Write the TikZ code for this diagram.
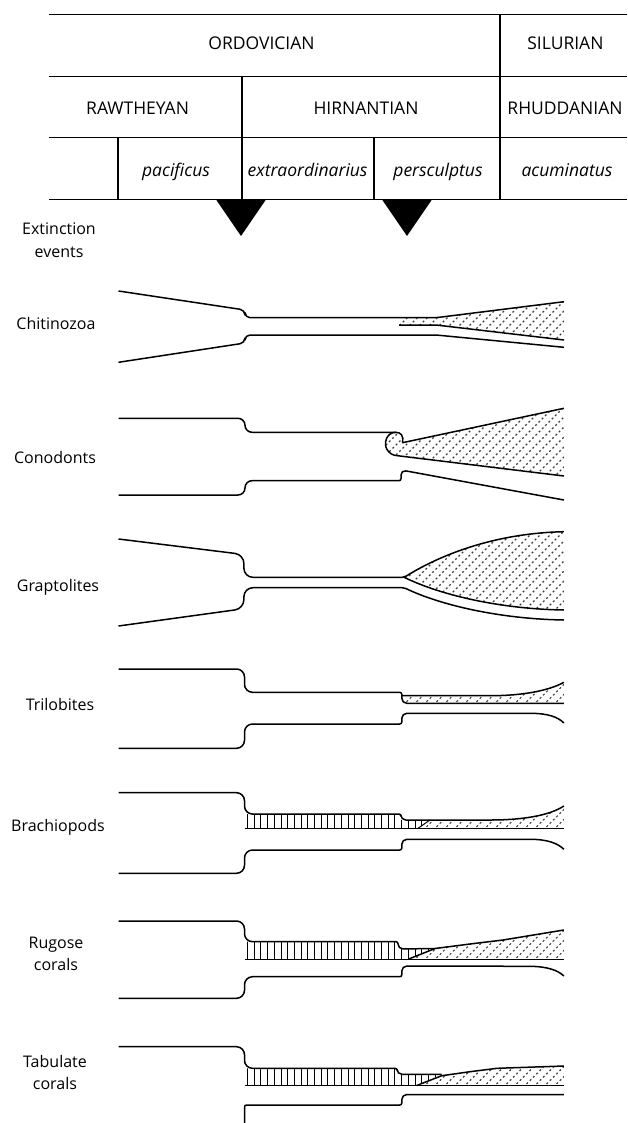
\documentclass[tikz,border=0pt]{standalone}
\usepackage{fontspec}
\setmainfont{Open Sans}
\newcommand\stipfill[2]{\begin{scope}\clip #1;\foreach \k in {180,190,...,580}{\draw[stip] (\k,#2+5) -- ++(200,-200);}\end{scope}}
\newcommand\vhatchfill[3]{\begin{scope}\clip #1;\foreach \x in {247.5,254.2,...,445}{\draw[vh] (\x,#2) -- (\x,#3);}\end{scope}}
\begin{document}
\begin{tikzpicture}[x=1pt,y=-1pt,line join=round,
  outl/.style={line width=1.5pt},
  tbl/.style={line width=1.5pt},
  lab/.style={font=\fontsize{16}{22}\selectfont, inner sep=0pt, anchor=base},
  hd/.style={font=\fontsize{17.5}{22}\selectfont, inner sep=0pt, anchor=base},
  hdi/.style={font=\fontsize{17.5}{22}\selectfont\itshape, inner sep=0pt, anchor=base},
  side/.style={font=\fontsize{16}{22}\selectfont, inner sep=0pt, align=center},
  stip/.style={line width=1.1pt, dash pattern=on 2pt off 2.6pt, black!75},
  vh/.style={line width=1pt},
  thinl/.style={line width=1pt},
]
\useasboundingbox (0,0) rectangle (627,1123);
% ---------- table ----------
\draw[tbl] (49,14.7) -- (627,14.7);
\draw[tbl] (49,76.5) -- (627,76.5);
\draw[tbl] (49,137.7) -- (627,137.7);
\draw[tbl] (49,199.5) -- (627,199.5);
\draw[tbl] (500,14.7) -- (500,199.5);
\draw[tbl] (242,76.5) -- (242,199.5);
\draw[tbl] (118,137.7) -- (118,199.5);
\draw[tbl] (374,137.7) -- (374,199.5);
\node[hd] (ordo) at (261.5,49.3) {ORDOVICIAN};
\node[hd] (silu) at (565.4,49.3) {SILURIAN};
\node[hd] (rawt) at (137.6,115) {RAWTHEYAN};
\node[hd] (hirn) at (366,115) {HIRNANTIAN};
\node[hd] (rhud) at (565,115) {RHUDDANIAN};
\node[hdi] (paci) at (176,176.7) {pacificus};
\node[hdi] (extr) at (307.6,176.7) {extraordinarius};
\node[hdi] (pers) at (438,176.7) {persculptus};
\node[hdi] (acum) at (567,176.7) {acuminatus};
% extinction triangles
\fill (216,199.5) -- (266,199.5) -- (241,236) -- cycle;
\fill (382,199.5) -- (432,199.5) -- (407,236) -- cycle;
\node[side,font=\fontsize{16}{23}\selectfont] (ext) at (59,240.5) {Extinction\\events};
% ---------- labels ----------
\node[lab] (chit) at (56,329) {Chitinozoa};
\node[lab] (cono) at (55,463) {Conodonts};
\node[lab] (grap) at (58,591) {Graptolites};
\node[lab] (tril) at (60,710) {Trilobites};
\node[lab] (brac) at (58,831) {Brachiopods};
\node[side] (rugo) at (56,954) {Rugose\\corals};
\node[side] (tabu) at (55,1072) {Tabulate\\corals};
% ---------- Chitinozoa ----------
\stipfill{(399,317.7) -- (436,317.7) -- (564,301.7) -- (564,340) -- (436,325) -- (399,325) -- cycle}{340}
\draw[outl] (118.5,291) [rounded corners=5pt] -- (245,310) -- (245,317.7) [rounded corners=2pt] -- (436,317.7) -- (564,301.7);
\draw[outl] (399,325) -- (436,325) -- (564,340);
\draw[outl] (118.5,362.3) [rounded corners=5pt] -- (245,343) -- (245,335) [rounded corners=2pt] -- (436,335) -- (564,347.3);
% ---------- Conodonts ----------
\stipfill{(563.9,408.3) -- (402.5,442.7) .. controls (404,436) and (401,432.3) .. (395.8,432.3) .. controls (386,432.3) and (383.5,444) .. (387,449.5) .. controls (389.5,453.5) and (393,455.5) .. (397.5,455.7) -- (563.9,476) -- cycle}{476}
\draw[outl] (118.5,418.3) [rounded corners=7pt] -- (245,418.3) -- (245,432.3) [rounded corners=2pt] -- (395.8,432.3);
\draw[outl] (563.9,408.3) -- (402.5,442.7) .. controls (404,436) and (401,432.3) .. (395.8,432.3) .. controls (386,432.3) and (383.5,444) .. (387,449.5) .. controls (389.5,453.5) and (393,455.5) .. (397.5,455.7) -- (563.9,476);
\draw[outl] (118.5,495) [rounded corners=7pt] -- (245,495) -- (245,480.7) [rounded corners=2pt] -- (401,480.7) [rounded corners=5pt] -- (401,470) [sharp corners] -- (563.9,500);
% ---------- Graptolites ----------
\stipfill{(404.2,577.3) .. controls (445,552) and (500,533) .. (563.9,531.7) -- (563.9,610) .. controls (500,609) and (440,595) .. (404.2,577.3) -- cycle}{610}
\draw[outl] (118.5,539) [rounded corners=9pt] -- (243.9,554.5) -- (243.9,577.3) [rounded corners=2pt] -- (404.2,577.3) [sharp corners] .. controls (445,552) and (500,533) .. (563.9,531.7);
\draw[outl] (404.2,577.3) .. controls (440,595) and (500,609) .. (563.9,610);
\draw[outl] (118.5,626) [rounded corners=9pt] -- (243.9,608.7) -- (243.9,587.7) [rounded corners=2pt] -- (404.2,587.7) [sharp corners] .. controls (440,605) and (500,619) .. (563.9,620);
% ---------- Trilobites ----------
\stipfill{(401.8,695.7) -- (490,695.7) .. controls (525,695.7) and (550,690) .. (563.9,682.3) -- (563.9,703.3) -- (401.8,703.3) -- cycle}{703.3}
\draw[outl] (118.5,669) [rounded corners=8pt] -- (244.5,669) -- (244.5,692.3) [rounded corners=2pt] -- (401.8,692.3) [rounded corners=5pt] -- (401.8,703.3) [sharp corners] -- (563.9,703.3);
\draw[outl] (401.8,695.7) -- (490,695.7) .. controls (525,695.7) and (550,690) .. (563.9,682.3);
\draw[outl] (118.5,748.3) [rounded corners=8pt] -- (244.5,748.3) -- (244.5,724) [rounded corners=2pt] -- (401.8,724) [rounded corners=5pt] -- (401.8,713.3) [sharp corners] -- (530,713.3) .. controls (548,713.3) and (558,717) .. (563.9,723);
% ---------- Brachiopods ----------
\vhatchfill{(244.5,814) -- (400.8,814) -- (400.8,820) -- (430,820) -- (418,828.3) -- (244.5,828.3) -- cycle}{812}{830}
\stipfill{(418,828.3) -- (430,820) -- (490,820) .. controls (525,820) and (550,815) .. (563.9,806) -- (563.9,828.3) -- cycle}{828.3}
\draw[outl] (118.5,792.7) [rounded corners=8pt] -- (244.5,792.7) -- (244.5,814) [rounded corners=2pt] -- (400.8,814) [rounded corners=5pt] -- (400.8,820) [sharp corners] -- (490,820) .. controls (525,820) and (550,815) .. (563.9,806);
\draw[outl] (244.5,828.3) -- (563.9,828.3);
\draw[thinl] (418,828.3) -- (430,820);
\draw[outl] (118.5,873.3) [rounded corners=8pt] -- (244.5,873.3) -- (244.5,850) [rounded corners=2pt] -- (401.8,850) [rounded corners=5pt] -- (401.8,839.3) [sharp corners] -- (530,839.3) .. controls (548,839.3) and (558,843.5) .. (563.9,849.3);
% ---------- Rugose corals ----------
\vhatchfill{(244.5,941.7) -- (398,941.7) -- (398,949) -- (435,948.5) -- (408,959.3) -- (244.5,959.3) -- cycle}{940}{961}
\stipfill{(408,959.3) -- (435,948.5) -- (470,944) -- (503,940) -- (563.9,930) -- (563.9,959.3) -- cycle}{959.3}
\draw[outl] (118.5,921) [rounded corners=8pt] -- (244.5,921) -- (244.5,941.7) [rounded corners=2pt] -- (398,941.7) [rounded corners=5pt] -- (398,949) [sharp corners] -- (435,948.5);
\draw[outl] (408,959.3) -- (435,948.5) -- (470,944) -- (503,940) -- (563.9,930);
\draw[outl] (244.5,959.3) -- (563.9,959.3);
\draw[outl] (118.5,998.3) [rounded corners=8pt] -- (244.5,998.3) -- (244.5,976.7) [rounded corners=2pt] -- (401.8,976.7) [rounded corners=5pt] -- (401.8,966) [sharp corners] -- (530,966.3) .. controls (548,966.5) and (558,970.5) .. (563.9,976);
% ---------- Tabulate corals ----------
\vhatchfill{(244.5,1068.3) -- (397,1068.3) -- (397,1074.3) -- (441.7,1074.3) -- (416.7,1085.5) -- (244.5,1085.5) -- cycle}{1066}{1087}
\stipfill{(416.7,1085.5) -- (441.7,1075.7) -- (470,1071.7) -- (497,1068.3) -- (563.9,1066) -- (563.9,1085.5) -- cycle}{1085.5}
\draw[outl] (118.5,1046.7) [rounded corners=8pt] -- (244.5,1046.7) -- (244.5,1068.3) [rounded corners=2pt] -- (397,1068.3) [rounded corners=5pt] -- (397,1074.3) [sharp corners] -- (441.7,1074.3);
\draw[outl] (416.7,1085.5) -- (441.7,1075.7) -- (470,1071.7) -- (497,1068.3) -- (563.9,1066);
\draw[outl] (244.5,1085.5) -- (563.9,1085.5);
\draw[outl] (244.5,1123) [rounded corners=2pt] -- (244.5,1105) -- (401.8,1105) [rounded corners=5pt] -- (401.8,1094.5) [sharp corners] -- (563.9,1094.5);
\end{tikzpicture}
\end{document}
